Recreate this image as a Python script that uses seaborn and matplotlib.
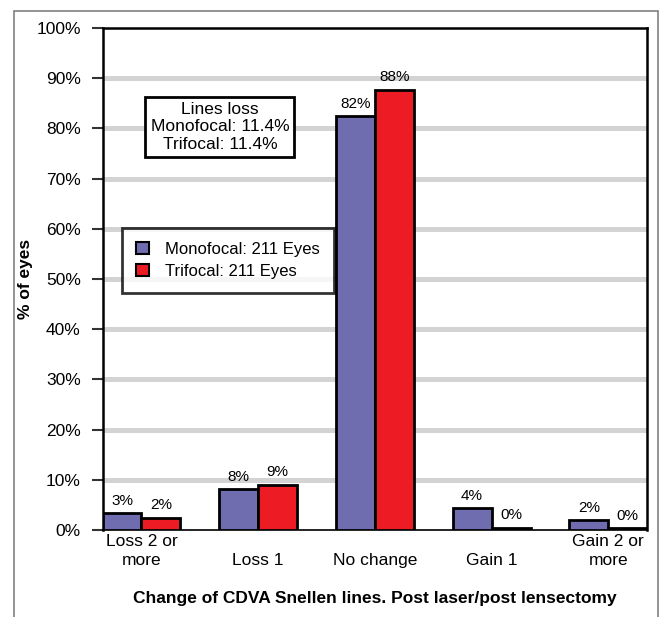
import pandas as pd
import matplotlib
matplotlib.use("Agg")
import matplotlib.pyplot as plt
import seaborn as sns
from matplotlib.patches import Rectangle
from matplotlib.ticker import FuncFormatter

categories = ["Loss 2 or\nmore", "\nLoss 1", "\nNo change", "\nGain 1", "Gain 2 or\nmore"]
monofocal = [3.3, 8.1, 82.4, 4.3, 1.9]
trifocal = [2.4, 9.0, 87.7, 0.4, 0.3]
series_names = ["Monofocal: 211 Eyes", "Trifocal: 211 Eyes"]
box_text = "Lines loss\nMonofocal: 11.4%\nTrifocal: 11.4%"

colors = ["#6f6cb0", "#ed1c24"]

sns.set_style("white")
plt.rcParams['font.family'] = ['Liberation Sans', 'DejaVu Sans']
plt.rcParams['text.color'] = 'black'
plt.rcParams['axes.labelcolor'] = 'black'
plt.rcParams['xtick.color'] = 'black'
plt.rcParams['ytick.color'] = 'black'

df = pd.DataFrame({
    "category": categories * 2,
    "value": monofocal + trifocal,
    "lens": [series_names[0]] * len(categories) + [series_names[1]] * len(categories),
})

fig = plt.figure(figsize=(6.6, 6.17), dpi=100)
ax = fig.add_axes([0.156, 0.141, 0.824, 0.8135])

# outer frame round the whole chart
fig.patches.append(Rectangle((14 / 660, -0.05), 644 / 660, 1 - 11 / 617 + 0.05,
                             transform=fig.transFigure, fill=False,
                             edgecolor="#808080", linewidth=1.2))

sns.barplot(data=df, x="category", y="value", hue="lens", palette=colors,
            saturation=1, width=0.667, gap=0, edgecolor="black", linewidth=2.0,
            order=categories, ax=ax, zorder=3)

for cont in ax.containers:
    ax.bar_label(cont, fmt="{:.0f}%", padding=4, fontsize=11)

ax.set_xlim(-0.33, 4.33)
ax.set_ylim(0, 100)
ax.set_yticks(range(0, 101, 10))
ax.yaxis.set_major_formatter(FuncFormatter(lambda v, p: f"{v:.0f}%"))
ax.tick_params(axis="y", direction="out", length=8, width=1.5, color="#333333",
               labelsize=12.5, pad=8, left=True)
ax.set_xticks(range(len(categories)))
ax.set_xticklabels(categories, linespacing=1.35)
ax.tick_params(axis="x", length=0, labelsize=12.5, pad=3)

for y in range(10, 100, 10):
    ax.axhline(y, color="#d3d3d3", linewidth=3.6, zorder=1)

for side in ["left", "top", "right"]:
    ax.spines[side].set_color("black")
    ax.spines[side].set_linewidth(1.8)
ax.spines["bottom"].set_color("black")
ax.spines["bottom"].set_linewidth(1.2)

ax.set_xlabel("Change of CDVA Snellen lines. Post laser/post lensectomy",
              fontsize=12.5, fontweight="bold", labelpad=16)
ax.set_ylabel("% of eyes", fontsize=12.5, fontweight="bold", labelpad=2)

leg = ax.legend(loc="upper left", bbox_to_anchor=(0.035, 0.602), borderaxespad=0,
                fontsize=12, frameon=True, fancybox=False, handlelength=0.75,
                handleheight=0.75, handletextpad=1.0, borderpad=0.85,
                labelspacing=0.4, title=None)
leg.get_frame().set_edgecolor("black")
leg.get_frame().set_linewidth(2.0)
for h in leg.legend_handles:
    h.set_linewidth(1.5)

ax.text(0.215, 0.803, box_text, transform=ax.transAxes, ha="center", va="center",
        fontsize=12.5, linespacing=1.2, zorder=5,
        bbox=dict(boxstyle="square,pad=0.3", facecolor="white",
                  edgecolor="black", linewidth=2.0))

fig.savefig("out.png", dpi=100)
